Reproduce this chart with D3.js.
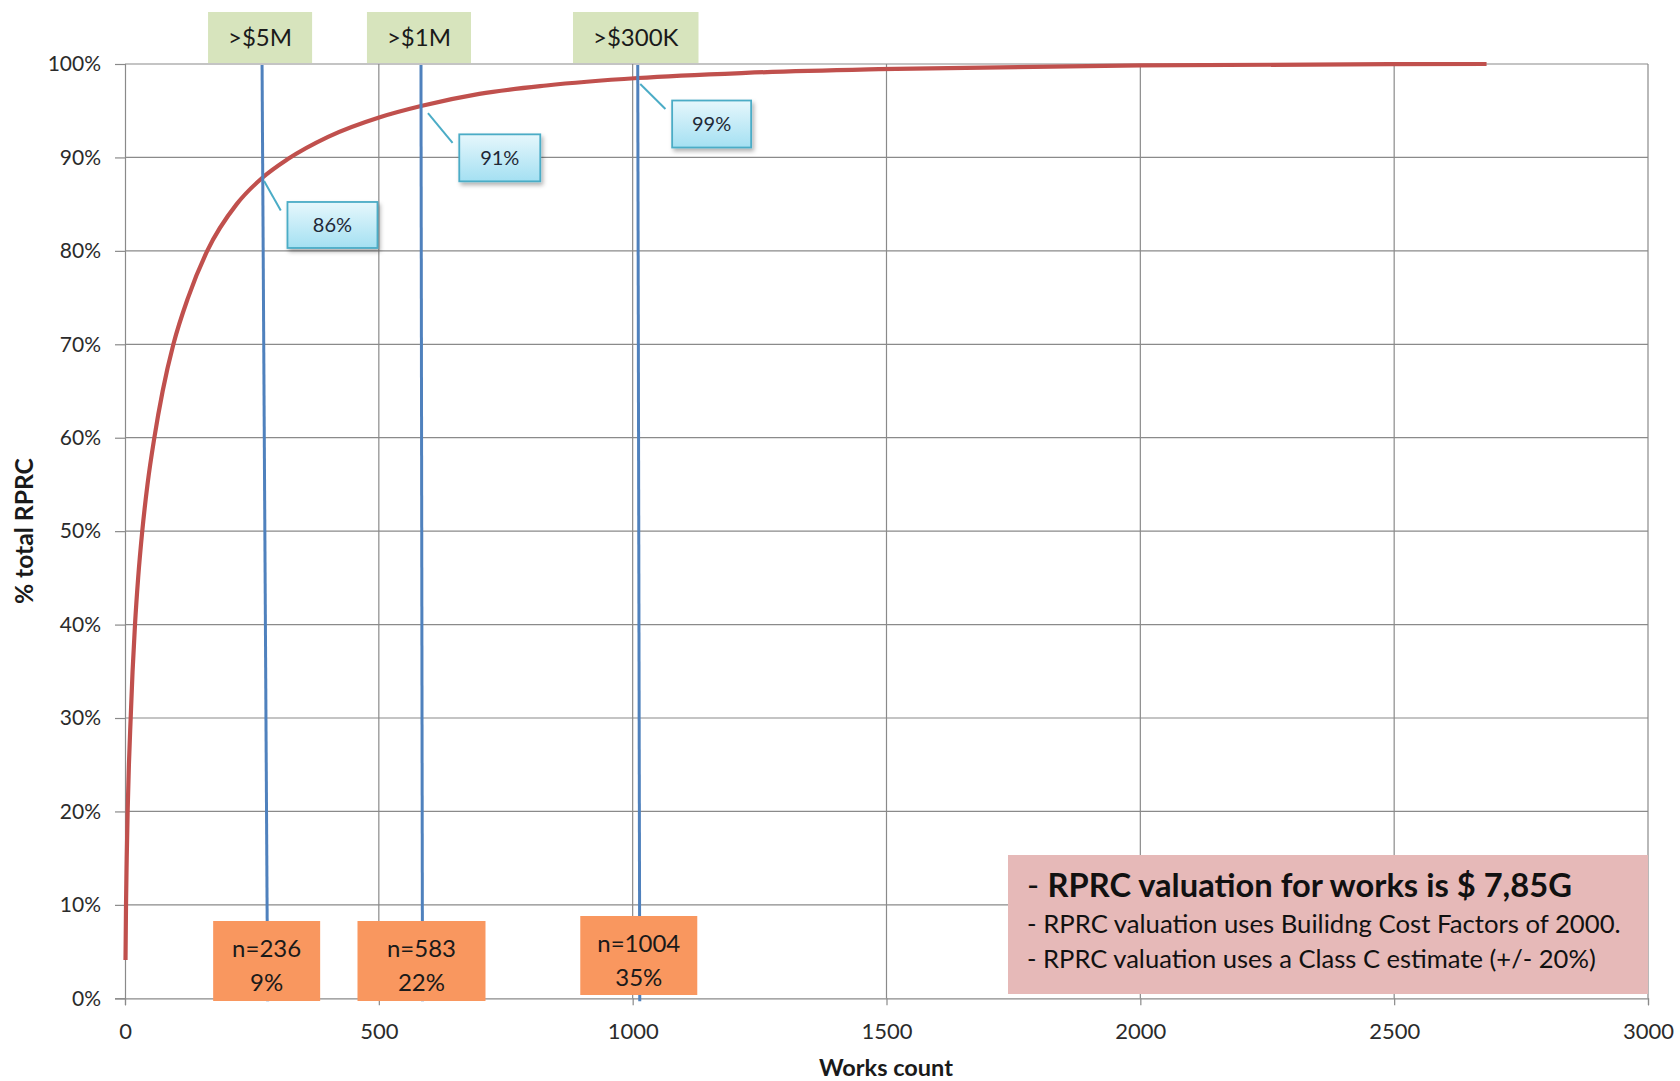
<!DOCTYPE html>
<html>
<head>
<meta charset="utf-8">
<script src="https://cdn.jsdelivr.net/npm/d3@7"></script>
<style>
  html, body { margin: 0; padding: 0; background: #ffffff; }
  svg { display: block; font-family: Lato, "Open Sans", "DejaVu Sans", sans-serif; }
</style>
</head>
<body>
<svg id="chart" width="1680" height="1081"></svg>
<script>
// Cumulative share of total RPRC value against the number of works (sorted by value)
const worksCount    = [1, 2, 3.4, 5.2, 7.7, 11.2, 14.9, 19.7, 25.9, 34, 44.3, 57.8, 74.2, 95.3, 124.3, 162, 220, 270, 320, 400, 502, 583, 698, 830, 1010, 1223, 1485, 2000, 2682];
const cumulativePct = [4.1, 10, 15, 20, 25, 30, 35, 40, 45, 50, 55, 60, 65, 70, 75, 80, 85, 87.8, 89.8, 92.2, 94.3, 95.5, 96.8, 97.7, 98.5, 99.05, 99.45, 99.85, 100];

// Axis ticks
const xTicks = [0, 500, 1000, 1500, 2000, 2500, 3000];
const yTicks = [0, 10, 20, 30, 40, 50, 60, 70, 80, 90, 100];

// Value thresholds and their annotations
const thresholdLabels = [">$5M", ">$1M", ">$300K"];
const thresholdCounts = [236, 583, 1004];
const thresholdShares = [9, 22, 35];
const calloutLabels   = ["86%", "91%", "99%"];
// Marker lines (works count at the top and bottom end of each line)
const markerTopX    = [270, 583, 1010];
const markerBottomX = [281, 586, 1014];

// Summary notes
const noteHeadline = "RPRC valuation for works is $ 7,85G";
const noteLines = [
  "- RPRC valuation uses Builidng Cost Factors of 2000.",
  "- RPRC valuation uses a Class C estimate (+/- 20%)"
];

// ---------------------------------------------------------------------------
const svg = d3.select("#chart");
const plot = { left: 125, right: 1648, top: 64, bottom: 998.3 };

const x = d3.scaleLinear().domain([0, 3000]).range([plot.left, plot.right]);
const y = d3.scaleLinear().domain([0, 100]).range([plot.bottom, plot.top]);

const gridColor = "#8a8a8a";
const labelColor = "#2b2b2b";

// shrink/grow a text element so that it spans the given width
function fitWidth(sel, target) {
  const w = sel.node().getComputedTextLength();
  const fs = parseFloat(sel.attr("font-size"));
  if (w > 0) sel.attr("font-size", (fs * target / w).toFixed(2));
  return sel;
}

// defs: callout gradient and drop shadow
const defs = svg.append("defs");
const grad = defs.append("linearGradient").attr("id", "calloutFill")
  .attr("x1", 0).attr("y1", 0).attr("x2", 0).attr("y2", 1);
grad.append("stop").attr("offset", "0%").attr("stop-color", "#e6f7fc");
grad.append("stop").attr("offset", "100%").attr("stop-color", "#a4e0f2");
const shadow = defs.append("filter").attr("id", "boxShadow")
  .attr("x", "-20%").attr("y", "-20%").attr("width", "150%").attr("height", "160%");
shadow.append("feDropShadow").attr("dx", 2).attr("dy", 3).attr("stdDeviation", 2)
  .attr("flood-color", "#000").attr("flood-opacity", 0.3);

// --- Grid lines --------------------------------------------------------------
const yAxis = d3.axisLeft(y).tickValues(yTicks).tickFormat(d => d + "%")
  .tickSize(10).tickPadding(14);
const gy = svg.append("g").attr("transform", `translate(${plot.left},0)`).call(yAxis);
gy.select(".domain").attr("stroke", gridColor).attr("stroke-width", 1.2);
gy.selectAll(".tick line").attr("stroke", gridColor).attr("stroke-width", 1.2);
gy.selectAll(".tick text").attr("font-size", 21).attr("fill", labelColor)
  .attr("font-family", "Lato, 'Open Sans', sans-serif");

svg.append("g").selectAll("line").data(yTicks.filter(d => d > 0)).join("line")
  .attr("x1", plot.left).attr("x2", plot.right)
  .attr("y1", d => y(d)).attr("y2", d => y(d))
  .attr("stroke", gridColor).attr("stroke-width", 1.2);

const xAxis = d3.axisBottom(x).tickValues(xTicks).tickFormat(d3.format("d")).tickSize(7);
const gx = svg.append("g").attr("transform", `translate(0,${plot.bottom})`).call(xAxis);
gx.select(".domain").attr("stroke", gridColor).attr("stroke-width", 1.2);
gx.selectAll(".tick line").attr("stroke", gridColor).attr("stroke-width", 1.2);
gx.selectAll(".tick text").attr("font-size", 22).attr("fill", labelColor)
  .attr("y", 33).attr("dy", "0.35em")
  .attr("font-family", "Lato, 'Open Sans', sans-serif");

svg.append("g").selectAll("line").data(xTicks.filter(d => d > 0)).join("line")
  .attr("x1", d => x(d)).attr("x2", d => x(d))
  .attr("y1", plot.top).attr("y2", plot.bottom)
  .attr("stroke", gridColor).attr("stroke-width", 1.2);

// --- Axis titles -------------------------------------------------------------
const xTitle = svg.append("text").attr("x", 886).attr("y", 1068).attr("dy", "0.35em")
  .attr("text-anchor", "middle").attr("font-weight", 700).attr("font-size", 21)
  .attr("fill", "#1a1a1a").text("Works count");
fitWidth(xTitle, 134);

const yTitle = svg.append("text")
  .attr("transform", `translate(24,${(plot.top + plot.bottom) / 2}) rotate(-90)`)
  .attr("dy", "0.35em").attr("text-anchor", "middle").attr("font-weight", 700)
  .attr("font-size", 21).attr("fill", "#1a1a1a").text("% total RPRC");
fitWidth(yTitle, 146);

// --- Summary note box ---------------------------------------------------------
const note = svg.append("g");
note.append("rect").attr("x", 1008).attr("y", 855).attr("width", x(3000) - 1008).attr("height", 139)
  .attr("fill", "#e6b9b8");
const head = note.append("text").attr("x", 1027).attr("y", 897).attr("font-size", 29).attr("fill", "#111");
head.append("tspan").attr("font-weight", 400).text("- ");
head.append("tspan").attr("font-weight", 700).text(noteHeadline);
fitWidth(head, 545);
const noteWidths = [594, 569];
noteLines.forEach((t, i) => {
  const line = note.append("text").attr("x", 1027).attr("y", 933 + i * 34.6)
    .attr("font-size", 22).attr("fill", "#111").text(t);
  fitWidth(line, noteWidths[i]);
});

// --- Cumulative curve ---------------------------------------------------------
const curveData = worksCount.map((w, i) => ({ w, p: cumulativePct[i] }));
const line = d3.line().x(d => x(d.w)).y(d => y(d.p)).curve(d3.curveMonotoneX);
svg.append("path").datum(curveData)
  .attr("d", line).attr("fill", "none")
  .attr("stroke", "#c0504d").attr("stroke-width", 4.2).attr("stroke-linecap", "butt");

// value of the curve at a given works count (linear between readings)
function curveAt(w) {
  const i = d3.bisector(d => d.w).left(curveData, w);
  if (i <= 0) return curveData[0].p;
  if (i >= curveData.length) return curveData[curveData.length - 1].p;
  const a = curveData[i - 1], b = curveData[i];
  return a.p + (b.p - a.p) * (w - a.w) / (b.w - a.w);
}

// --- Threshold marker lines ---------------------------------------------------
svg.append("g").selectAll("line").data(markerTopX).join("line")
  .attr("x1", d => x(d)).attr("y1", y(100) + 1)
  .attr("x2", (d, i) => x(markerBottomX[i])).attr("y2", plot.bottom + 3)
  .attr("stroke", "#4f81bd").attr("stroke-width", 3);

// --- Threshold labels above the plot -------------------------------------------
const topLabels = svg.append("g").selectAll("g").data(thresholdLabels).join("g");
topLabels.each(function (label, i) {
  const g = d3.select(this);
  const cx = x(markerTopX[i]) - 2;
  const rect = g.append("rect").attr("fill", "#d7e4bd");
  const txt = g.append("text").attr("x", cx).attr("y", 38).attr("dy", "0.35em")
    .attr("text-anchor", "middle").attr("font-size", 24).attr("fill", "#1a1a1a").text(label);
  const w = txt.node().getComputedTextLength() + 40;
  rect.attr("x", cx - w / 2).attr("y", 12).attr("width", w).attr("height", 51);
});

// --- Count / share boxes at the bottom -----------------------------------------
const countLayout = [
  { w: 107, top: 921, h: 80 },
  { w: 128, top: 921, h: 80 },
  { w: 117, top: 916, h: 79 }
];
const countBoxes = svg.append("g").selectAll("g").data(thresholdCounts).join("g");
countBoxes.each(function (n, i) {
  const g = d3.select(this);
  const L = countLayout[i];
  const cx = x(markerBottomX[i]) - 1;
  g.append("rect").attr("x", cx - L.w / 2).attr("y", L.top).attr("width", L.w).attr("height", L.h)
    .attr("fill", "#f9975f");
  g.append("text").attr("x", cx).attr("y", L.top + 36).attr("text-anchor", "middle")
    .attr("font-size", 24).attr("fill", "#1a1a1a").text("n=" + n);
  g.append("text").attr("x", cx).attr("y", L.top + 70).attr("text-anchor", "middle")
    .attr("font-size", 24).attr("fill", "#1a1a1a").text(thresholdShares[i] + "%");
});

// --- Callouts pointing at the curve -------------------------------------------
const calloutLayout = [
  { dx: 25.4, dy: 24,   w: 90, h: 46, sx: 2, sy: 3 },
  { dx: 38.3, dy: 28.3, w: 81, h: 47, sx: 7, sy: 7 },
  { dx: 34.4, dy: 22.5, w: 79, h: 47, sx: 2.5, sy: 6 }
];
const callouts = svg.append("g").selectAll("g").data(calloutLabels).join("g");
callouts.each(function (label, i) {
  const g = d3.select(this);
  const L = calloutLayout[i];
  const px = x(markerTopX[i]);
  const py = y(curveAt(markerTopX[i]));
  const bx = px + L.dx, by = py + L.dy;
  g.append("line")
    .attr("x1", px + L.sx).attr("y1", py + L.sy)
    .attr("x2", bx - 6.7).attr("y2", by + 8.5)
    .attr("stroke", "#4bacc6").attr("stroke-width", 2);
  g.append("rect").attr("x", bx).attr("y", by).attr("width", L.w).attr("height", L.h)
    .attr("fill", "url(#calloutFill)").attr("stroke", "#4bacc6").attr("stroke-width", 1.8)
    .attr("filter", "url(#boxShadow)");
  g.append("text").attr("x", bx + L.w / 2).attr("y", by + L.h / 2).attr("dy", "0.36em")
    .attr("text-anchor", "middle").attr("font-size", 20).attr("fill", "#1f2937").text(label);
});
</script>
</body>
</html>
